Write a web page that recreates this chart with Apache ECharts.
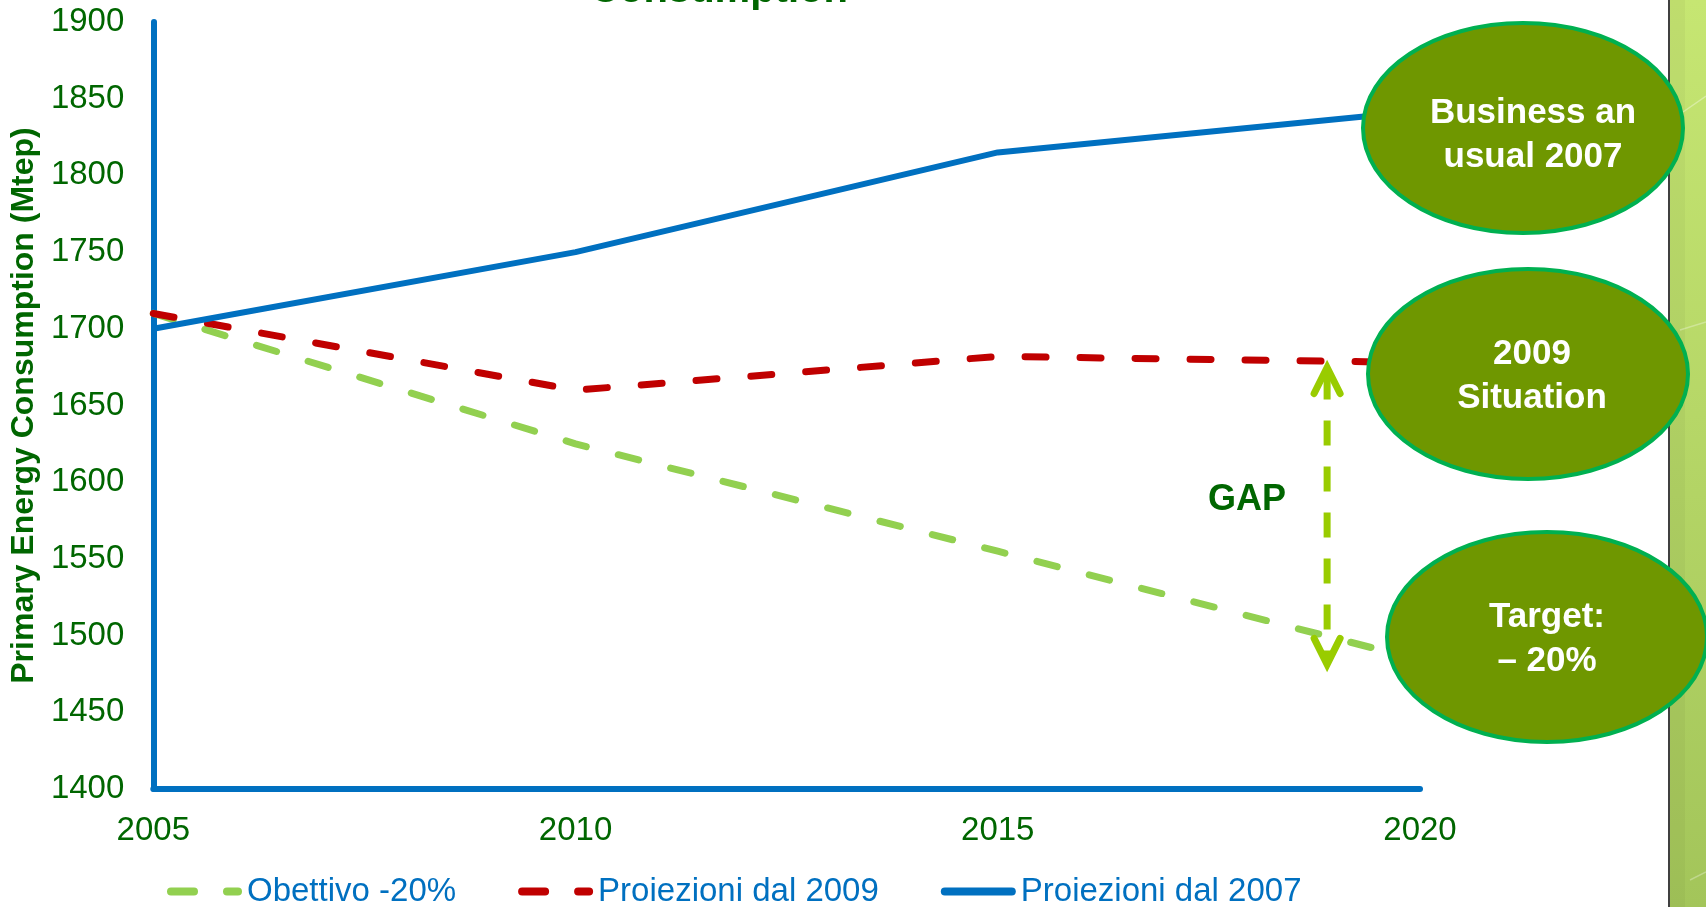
<!DOCTYPE html>
<html><head><meta charset="utf-8">
<script src="https://cdn.jsdelivr.net/npm/echarts@6/dist/echarts.min.js"></script>
<style>html,body{margin:0;padding:0;background:#fff}#c{width:1706px;height:907px}</style>
</head><body><div id="c"></div>
<script>
// ---- data ----
const years = [2005, 2010, 2015, 2020];
const obiettivo = [1710, 1625, 1555, 1484];
const proiezioni2009 = [1710, 1660, 1682, 1678];
const proiezioni2007 = [1700, 1750, 1815, 1842];
const seriesNames = ['Obettivo -20%', 'Proiezioni dal 2009', 'Proiezioni dal 2007'];
const yAxisName = 'Primary Energy Consumption (Mtep)';
const titleText = 'Consumption';
const bubbleTexts = ['Business an\nusual 2007', '2009\nSituation', 'Target:\n\u2013 20%'];
const gapLabel = 'GAP';
const gapYear = 2018.9, gapTop = 1678, gapBottom = 1478;

// ---- styling ----
const FONT = "'Liberation Sans', Arial, sans-serif";
const DKGREEN = '#006600';
const BLUE = '#0070C0', RED = '#C00000', LGREEN = '#92D050';
const pair = arr => years.map((y, i) => [y, arr[i]]);

const dashIcon = 'path://M4,0H27A4,4 0 0 1 27,8H4A4,4 0 0 1 4,0Z M60,0H71A4,4 0 0 1 71,8H60A4,4 0 0 1 60,0Z';
const solidIcon = 'path://M4,0H71A4,4 0 0 1 71,8H4A4,4 0 0 1 4,0Z';

const chart = echarts.init(document.getElementById('c'), null, {renderer: 'canvas'});
const axisLineStyle = {color: BLUE, width: 6};
const option = {
  animation: false,
  backgroundColor: '#ffffff',
  grid: {left: 153, right: 286, top: 22, bottom: 118},
  xAxis: {
    type: 'value', min: 2005, max: 2020, interval: 5,
    axisLine: {show: true, onZero: false, lineStyle: axisLineStyle},
    axisTick: {show: false}, splitLine: {show: false},
    axisLabel: {color: DKGREEN, fontSize: 33, fontFamily: FONT, margin: 25, formatter: v => String(v)}
  },
  yAxis: {
    type: 'value', min: 1400, max: 1900, interval: 50,
    axisLine: {show: true, lineStyle: axisLineStyle},
    axisTick: {show: false}, splitLine: {show: false},
    axisLabel: {color: DKGREEN, fontSize: 33, fontFamily: FONT, margin: 29, formatter: v => String(v)},
    name: yAxisName, nameLocation: 'middle', nameRotate: 90, nameGap: 105,
    nameTextStyle: {color: DKGREEN, fontSize: 32, fontWeight: 'bold', fontFamily: FONT}
  },
  legend: {
    left: 167, top: 875, padding: 0, itemWidth: 75, itemHeight: 8, itemGap: 62,
    itemStyle: {borderWidth: 0},
    textStyle: {color: BLUE, fontSize: 33, fontFamily: FONT, lineHeight: 33, padding: [0, 0, 0, 0]},
    data: [
      {name: seriesNames[0], icon: dashIcon, itemStyle: {color: LGREEN}},
      {name: seriesNames[1], icon: dashIcon, itemStyle: {color: RED}},
      {name: seriesNames[2], icon: solidIcon, itemStyle: {color: BLUE}}
    ]
  },
  series: [
    {type: 'line', name: seriesNames[0], data: pair(obiettivo), symbol: 'none', z: 2,
      itemStyle: {color: LGREEN}, lineStyle: {color: LGREEN, width: 7, type: [21, 33], cap: 'round'}},
    {type: 'line', name: seriesNames[1], data: pair(proiezioni2009), symbol: 'none', z: 3,
      itemStyle: {color: RED}, lineStyle: {color: RED, width: 7, type: [21, 34], cap: 'round'}},
    {type: 'line', name: seriesNames[2], data: pair(proiezioni2007), symbol: 'none', z: 4,
      itemStyle: {color: BLUE}, lineStyle: {color: BLUE, width: 6}}
  ]
};
chart.setOption(option);

// ---- annotations (positioned through the chart's own scales where tied to data) ----
const pTop = chart.convertToPixel({gridIndex: 0}, [gapYear, gapTop]);
const pBot = chart.convertToPixel({gridIndex: 0}, [gapYear, gapBottom]);
const ax = pTop[0], ty = pTop[1] + 5, by = pBot[1] - 5;
const ARROW = '#99CC00';
const bubbleGeo = [
  {cx: 1523, cy: 128, tx: 1533, ty: 135},
  {cx: 1528, cy: 374, tx: 1532, ty: 376},
  {cx: 1547, cy: 637, tx: 1547, ty: 639}
];
const graphics = [
  {type: 'rect', z: 50, shape: {x: 1670, y: 0, width: 36, height: 907},
    style: {fill: new echarts.graphic.LinearGradient(0, 0, 0, 1, [{offset: 0, color: '#C6E672'}, {offset: 1, color: '#A3C55A'}])}},
  {type: 'rect', z: 51, shape: {x: 1670, y: 0, width: 15, height: 907}, style: {fill: 'rgba(0,0,0,0.035)'}},
  {type: 'line', z: 52, shape: {x1: 1683, y1: 112, x2: 1706, y2: 96}, style: {stroke: 'rgba(255,255,255,0.35)', lineWidth: 1.5}},
  {type: 'line', z: 52, shape: {x1: 1680, y1: 330, x2: 1706, y2: 322}, style: {stroke: 'rgba(255,255,255,0.3)', lineWidth: 1.5}},
  {type: 'line', z: 52, shape: {x1: 1690, y1: 880, x2: 1706, y2: 872}, style: {stroke: 'rgba(255,255,255,0.3)', lineWidth: 1.5}},
  {type: 'line', z: 53, shape: {x1: 1669, y1: 0, x2: 1669, y2: 907}, style: {stroke: '#404040', lineWidth: 2}},
  // GAP arrow
  {type: 'line', z: 60, shape: {x1: ax, y1: ty + 7, x2: ax, y2: by}, style: {stroke: ARROW, lineWidth: 7, lineDash: [25, 21]}},
  {type: 'polyline', z: 60, shape: {points: [[ax - 13, ty + 26], [ax, ty], [ax + 13, ty + 26]]}, style: {stroke: ARROW, fill: null, lineWidth: 7, lineCap: 'round', lineJoin: 'miter'}},
  {type: 'polyline', z: 60, shape: {points: [[ax - 13, by - 26], [ax, by], [ax + 13, by - 26]]}, style: {stroke: ARROW, fill: null, lineWidth: 7, lineCap: 'round', lineJoin: 'miter'}},
  {type: 'text', z: 60, x: ax - 80, y: (ty + by) / 2 - 16,
    style: {text: gapLabel, fill: DKGREEN, font: "bold 36px 'Liberation Sans', Arial, sans-serif", align: 'center', verticalAlign: 'middle'}},
  // title (cut at the top)
  {type: 'text', z: 60, x: 719, y: -9,
    style: {text: titleText, fill: DKGREEN, font: "bold 40px 'Liberation Sans', Arial, sans-serif", align: 'center', verticalAlign: 'middle'}}
];
bubbleGeo.forEach((g, i) => {
  graphics.push({type: 'ellipse', z: 70, shape: {cx: g.cx, cy: g.cy, rx: 160, ry: 105},
    style: {fill: '#6F9700', stroke: '#00B050', lineWidth: 4}});
  graphics.push({type: 'text', z: 71, x: g.tx, y: g.ty,
    style: {text: bubbleTexts[i], fill: '#ffffff', font: "bold 35px 'Liberation Sans', Arial, sans-serif", lineHeight: 44, align: 'center', verticalAlign: 'middle'}});
});
chart.setOption({graphic: graphics});
</script>
</body></html>
